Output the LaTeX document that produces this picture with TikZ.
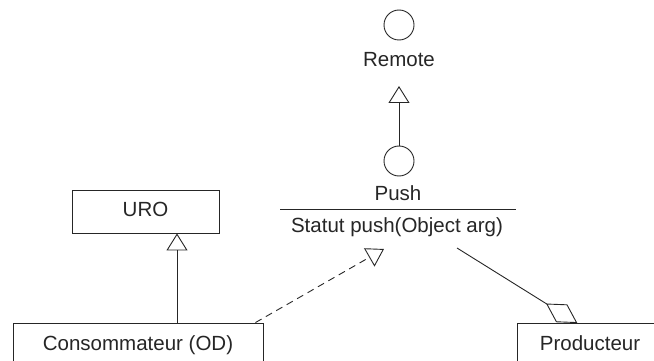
\documentclass[tikz,border=0pt]{standalone}
\usepackage{fontspec}
\setmainfont{Liberation Sans}
\usetikzlibrary{arrows.meta,calc}
\definecolor{ink}{gray}{0.15}
\tikzset{
  lbl/.style={inner sep=0pt, anchor=base, text=ink, font=\fontsize{20.5}{24}\selectfont},
  classbox/.style={draw=ink, line width=0.9pt, fill=white, rectangle, inner sep=0pt},
  iface/.style={draw=ink, line width=0.9pt, circle, inner sep=0pt, minimum size=30pt},
  conn/.style={draw=ink, line width=0.9pt},
  gen/.style={conn, -{Triangle[open, length=17pt, width=21pt, line width=0.9pt]}},
  real/.style={gen, dash pattern=on 7pt off 5pt},
  aggdiamond/.style={draw=ink, line width=0.9pt, fill=white, line join=miter}
}
\begin{document}
\begin{tikzpicture}[x=1pt, y=-1pt]
\useasboundingbox (0,0) rectangle (654,361);
\clip (0,0) rectangle (654,361);

% interfaces (lollipop circles) and their names
\node[iface] (remote) at (399,25) {};
\node[lbl] (remotelbl) at (399,67) {Remote};
\node[iface] (push) at (399,161) {};
\node[lbl] (pushlbl) at (398,200) {Push};
\draw[conn] (280,209) coordinate (sepL) -- (516,209) coordinate (sepR);
\node[lbl] (pushops) at (397,232) {Statut push(Object arg)};

% classes
\node[classbox, minimum width=147pt, minimum height=43pt] (uro) at (145.5,211.5) {};
\node[lbl] at (145.5,216) {URO};
\node[classbox, minimum width=250pt, minimum height=70pt] (cons) at (138,358) {};
\node[lbl] at (138,350) {Consommateur (OD)};
\node[classbox, minimum width=200pt, minimum height=70pt] (prod) at (617,358) {};
\node[lbl] at (590,350) {Producteur};

% Push extends Remote
\draw[gen] (push.north) -- ([yshift=-19pt]remotelbl.base);

% Consommateur extends URO
\coordinate (ucons) at ([xshift=39pt]cons.north);
\draw[gen] (ucons) -- (ucons |- uro.south);

% Consommateur realizes Push
\coordinate (realfrom) at ([xshift=-8pt]cons.north east);
\coordinate (realtip) at (384,249);
\draw[real] (realfrom) -- (realtip);

% Producteur aggregates Push: line, then a hollow diamond at the Producteur end
\coordinate (aggfrom) at (457,248);
\coordinate (aggtip) at ([xshift=60pt]prod.north west);
\coordinate (aggback) at ($(aggtip)!35pt!(aggfrom)$);
\coordinate (aggmid) at ($(aggtip)!17.5pt!(aggfrom)$);
\draw[conn] (aggfrom) -- (aggback);
\draw[aggdiamond] (aggtip) -- ($(aggmid)!10pt!90:(aggtip)$) -- (aggback)
  -- ($(aggmid)!10pt!-90:(aggtip)$) -- cycle;
\end{tikzpicture}
\end{document}
